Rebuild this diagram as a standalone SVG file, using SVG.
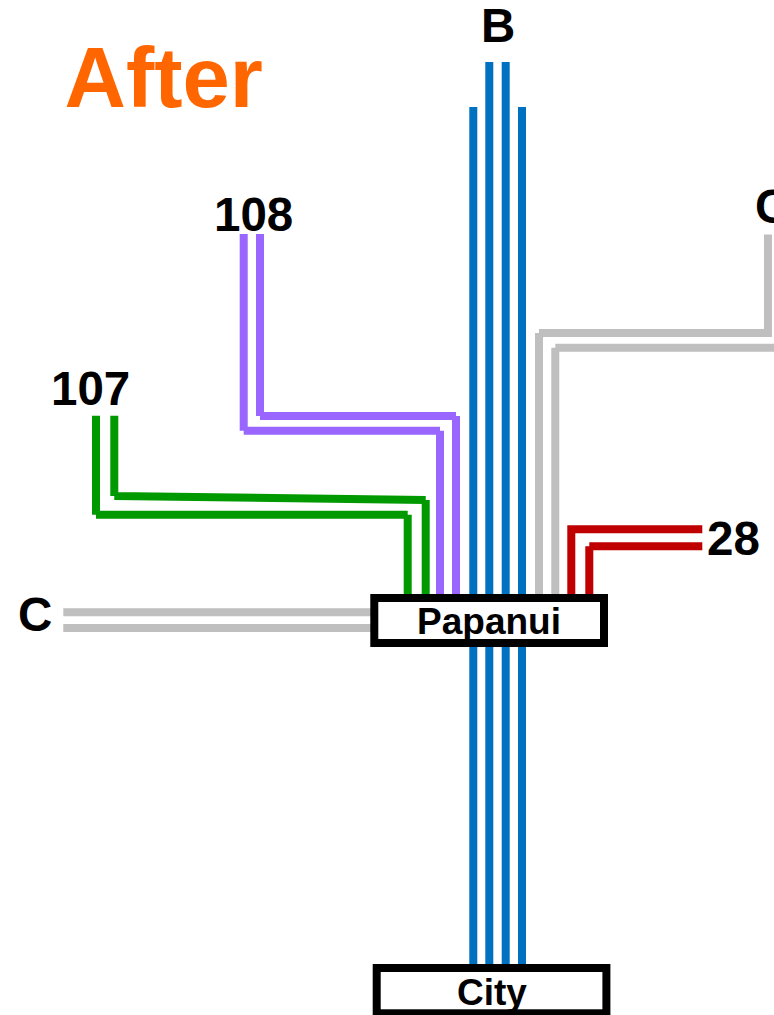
<svg xmlns="http://www.w3.org/2000/svg" width="774" height="1015" viewBox="0 0 774 1015">
<style>
.l{fill:none;stroke-width:8;stroke-linecap:butt;stroke-linejoin:miter}
.b{stroke:#0070c0}.p{stroke:#9966ff}.g{stroke:#009900}.y{stroke:#bfbfbf}.r{stroke:#c00000}
.n{fill:#fff;stroke:#000;stroke-width:8}
text{font-family:"Liberation Sans",Arial,sans-serif;font-weight:700;fill:#000}
.t{font-size:37px;text-anchor:middle}
.h{font-size:47.500px}
</style>
<rect width="774" height="1015" fill="#fff"/>
<g id="connectors">
<path class="l b" d="M473.300 107V964M489.300 62V964M505.700 62V964M522 107V964"/>
<path class="l y" d="M768 234.500V333M772 333H539M539 333V594M774 347.700H555.300M555.300 347.700V594"/>
<path class="l y" d="M63.300 612.300H372M63.300 628H372"/>
<path class="l p" d="M243.700 234V430.700M243.700 430.700H440M440 430.700V594M260 234V416M260 416H456M456 416V594"/>
<path class="l g" d="M96 415.700V514.700M96 514.700H407.700M407.700 514.700V594M114.300 415.700V496M114.300 496L425.700 500M425.700 500V594"/>
<path class="l r" d="M571.300 594V529.300H702.300M589.300 594V546.300M589.300 546.300H702.300"/>
</g>
<g id="title"><text x="64.500" y="107" font-size="85" style="fill:#ff6600">After</text></g>
<g id="label-b"><text class="h" x="481" y="42">B</text></g>
<g id="label-c-right"><text class="h" x="755" y="223">C</text></g>
<g id="label-108"><text class="h" x="214" y="231">108</text></g>
<g id="label-107"><text class="h" x="51" y="405">107</text></g>
<g id="label-c-left"><text class="h" x="18" y="631">C</text></g>
<g id="label-28"><text class="h" x="707" y="555">28</text></g>
<g id="papanui"><rect class="n" x="374.300" y="598" width="229.700" height="45"/><text class="t" x="489" y="634">Papanui</text></g>
<g id="city"><rect class="n" x="376.700" y="968" width="229.700" height="45.300"/><text class="t" x="492" y="1005">City</text></g>
</svg>
